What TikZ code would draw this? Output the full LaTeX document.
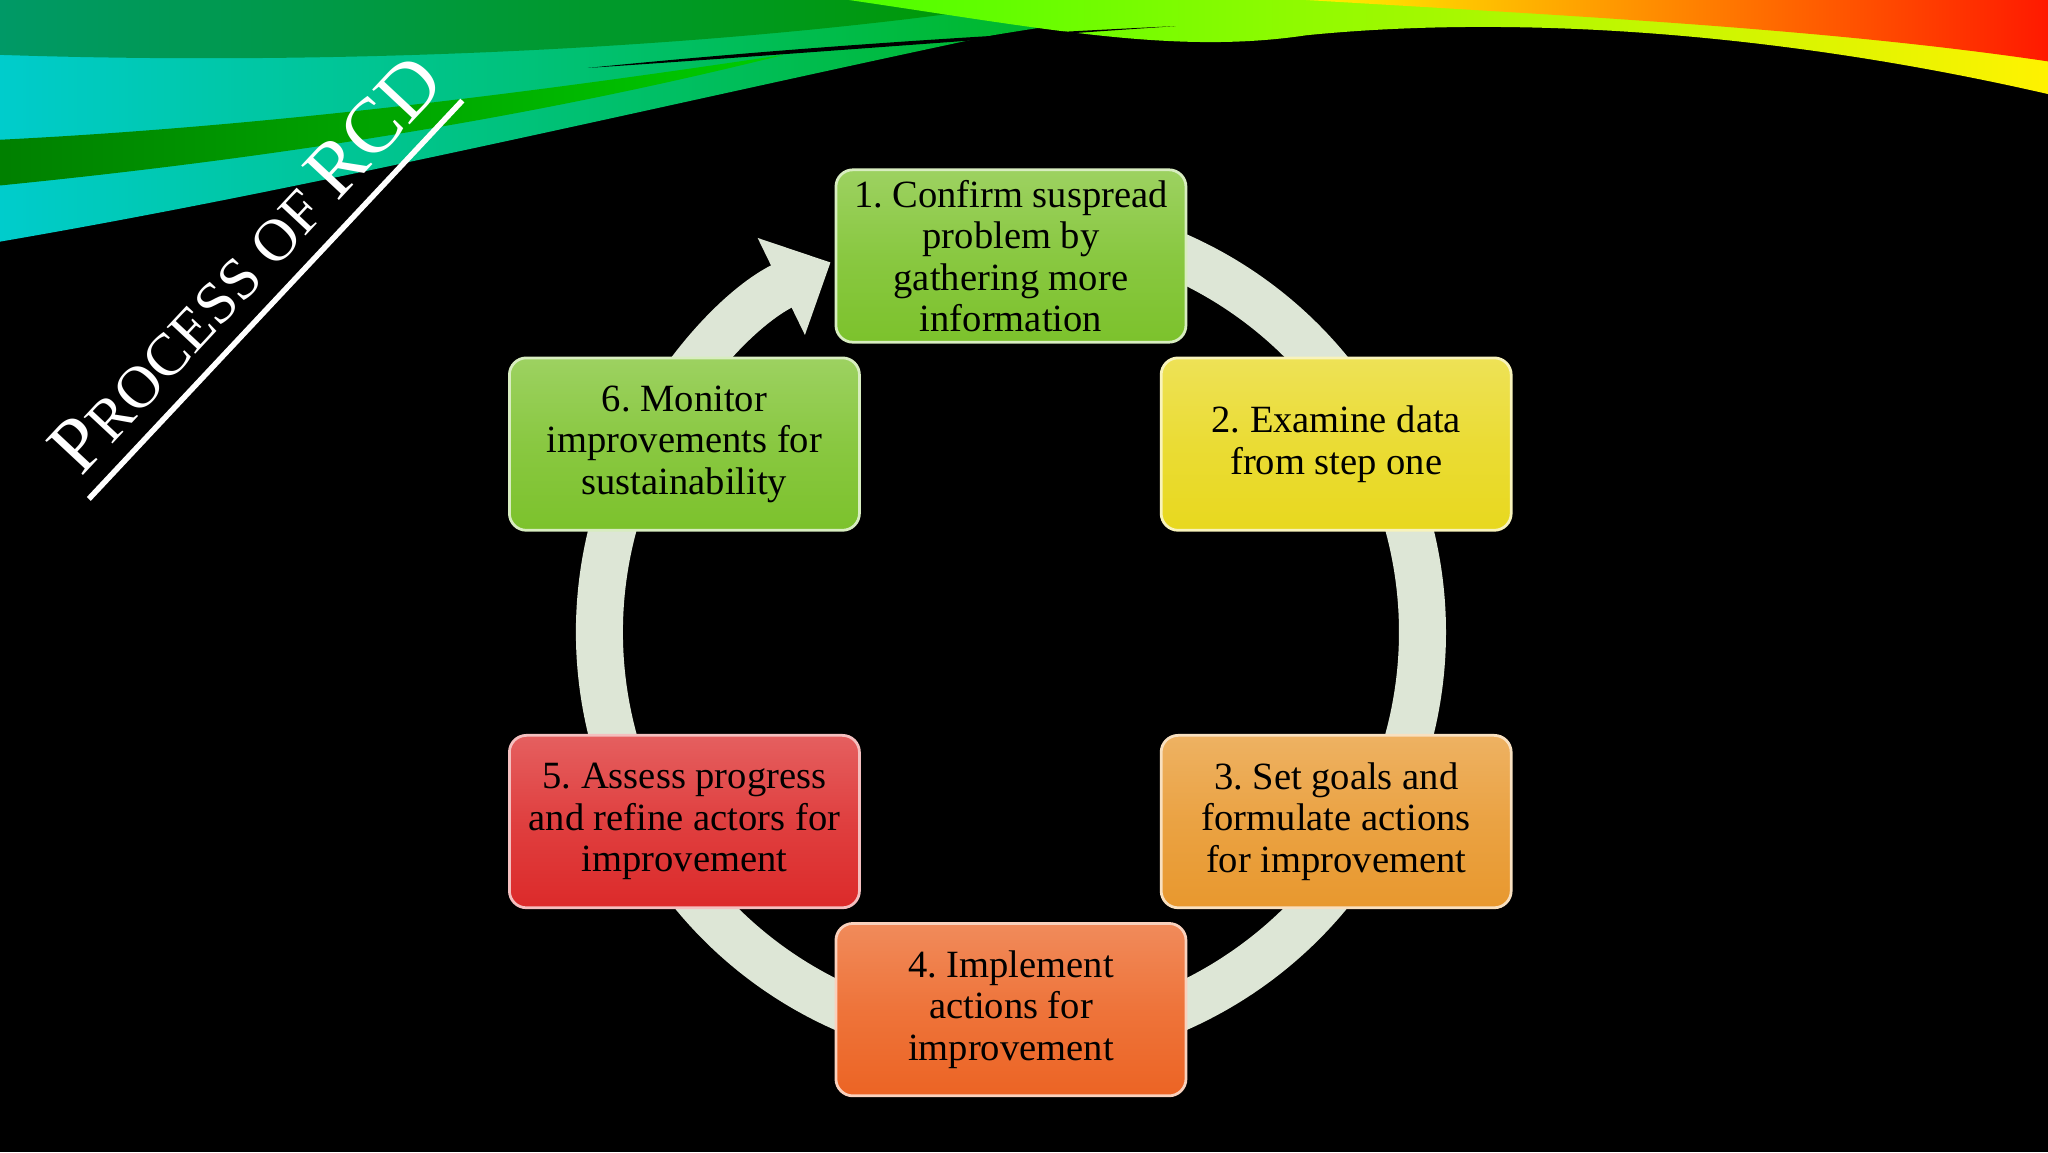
\documentclass[tikz,border=0pt]{standalone}
\usepackage{fontspec}
\setmainfont{Liberation Serif}
\usetikzlibrary{arrows.meta,calc}
\tikzset{
  stepbox/.style={rounded corners=0.13cm, minimum width=2.68cm, minimum height=1.32cm,
    align=center, font=\frenchspacing\fontsize{8.4}{9.0}\selectfont, text=black, inner sep=1pt,
    draw=white!70!#1, line width=0.6pt, top color=#1!75!white, bottom color=#1, middle color=#1!90!white},
  ring/.style={draw=ringc, line width=0.36cm}
}
\definecolor{ringc}{HTML}{DDE6D6}
\definecolor{cgreen}{HTML}{7CC22C}
\definecolor{cyellow}{HTML}{E8D81E}
\definecolor{corange}{HTML}{E8982E}
\definecolor{cdorange}{HTML}{EC6424}
\definecolor{cred}{HTML}{DC2A2A}
\begin{document}
\begin{tikzpicture}
\fill[black] (0,0) rectangle (15.68,8.82);
\useasboundingbox (0,0) rectangle (15.68,8.82);
% top streaks
\shade[left color=cyan!60!teal, right color=green!70!black] (0,8.82) -- (0,6.97) .. controls (2.5,7.4) and (5,8.0) .. (7.6,8.55) .. controls (8.5,8.7) and (9.5,8.82) .. (10,8.82) -- cycle;
\shade[left color=teal!80!green, right color=green!60!black] (0,8.4) .. controls (3,8.3) and (6,8.5) .. (8,8.82) -- (0,8.82) -- cycle;
\shade[left color=green!50!black, right color=green!80!black] (0,7.4) .. controls (2,7.6) and (4,7.9) .. (6,8.4) .. controls (4,8.1) and (2,7.85) .. (0,7.75) -- cycle;
\shade[left color=green!70!yellow, right color=yellow!90!orange] (6.5,8.82) .. controls (8,8.6) and (9,8.4) .. (10,8.55) .. controls (11.5,8.7) and (13.5,8.6) .. (15.68,8.1) -- (15.68,8.82) -- cycle;
\shade[left color=yellow!90!orange, right color=red!80!orange] (10,8.82) .. controls (12,8.7) and (14,8.6) .. (15.68,8.35) -- (15.68,8.82) -- cycle;
\fill[black] (4.5,8.3) .. controls (6,8.45) and (7.5,8.55) .. (9,8.62) .. controls (7.5,8.52) and (6,8.4) .. (4.5,8.3) -- cycle;
% title
\node[rotate=47, text=white, font=\fontsize{17}{18}\selectfont, inner sep=0pt] (title) at (1.88,6.8) {P\fontsize{13}{14}\selectfont ROCESS OF \fontsize{17}{18}\selectfont RCD};
\coordinate (t1) at (0.68,5.0);
\coordinate (t2) at (3.54,8.05);
\draw[white, line width=1.2pt] (t1) -- (t2);
% ring
\coordinate (c) at (7.74,3.98);
\draw[ring, -{Triangle[width=0.8cm,length=0.42cm]}] ($(c)+(70:3.15)$) arc[start angle=70, end angle=-244, radius=3.15];
% boxes
\node[stepbox=cgreen] (s1) at (7.74,6.86) {1. Confirm suspread\\problem by\\gathering more\\information};
\node[stepbox=cyellow] (s2) at (10.23,5.42) {2. Examine data\\from step one};
\node[stepbox=corange] (s3) at (10.23,2.53) {3. Set goals and\\formulate actions\\for improvement};
\node[stepbox=cdorange] (s4) at (7.74,1.09) {4. Implement\\actions for\\improvement};
\node[stepbox=cred] (s5) at (5.24,2.53) {5. Assess progress\\and refine actors for\\improvement};
\node[stepbox=cgreen] (s6) at (5.24,5.42) {6. Monitor\\improvements for\\sustainability};
\end{tikzpicture}
\end{document}
